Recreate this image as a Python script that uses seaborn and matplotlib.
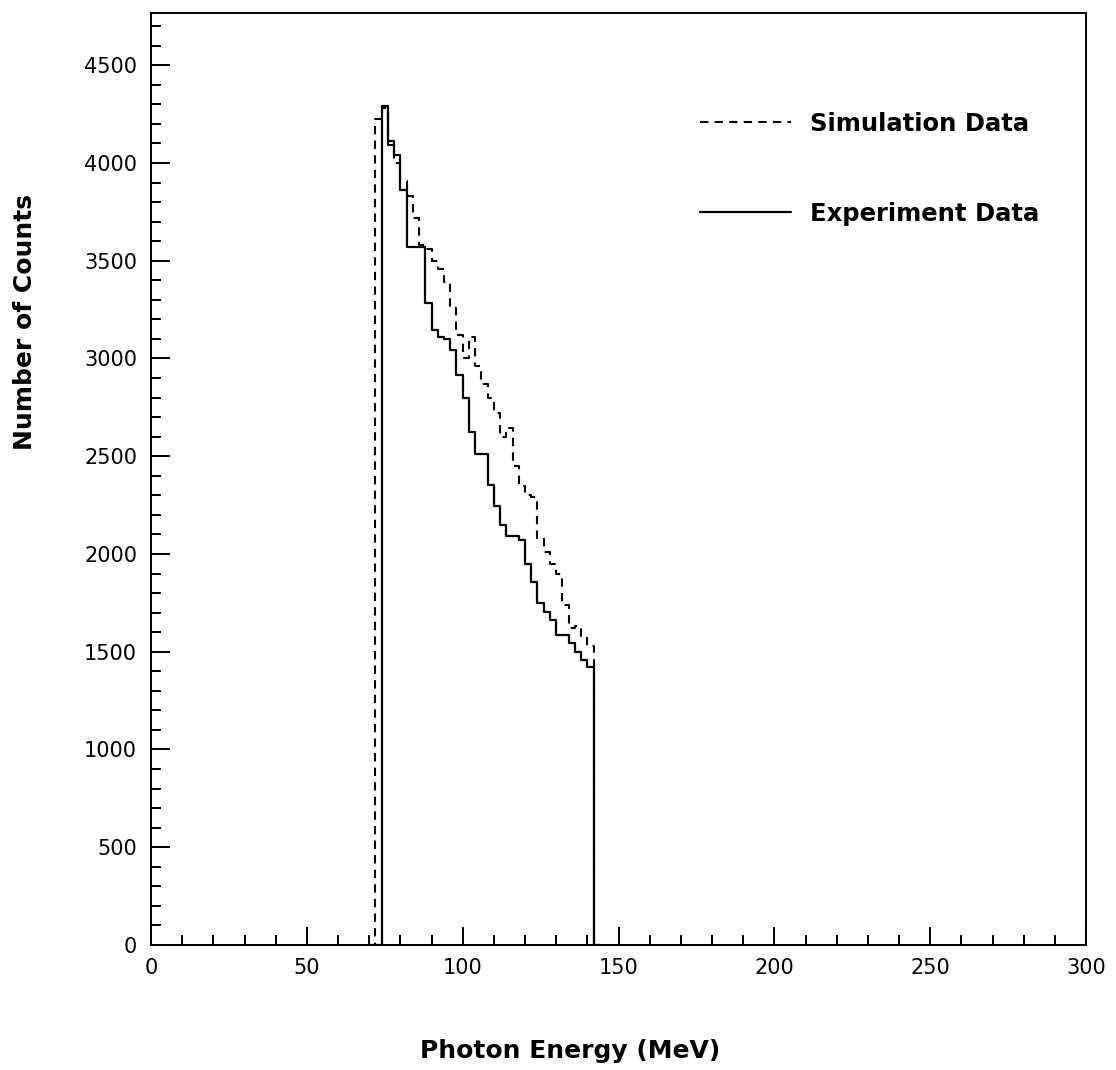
import numpy as np
import pandas as pd
import matplotlib
matplotlib.use("Agg")
import matplotlib.pyplot as plt
from matplotlib.ticker import MultipleLocator
from matplotlib.lines import Line2D
import seaborn as sns

# Bin edges of the photon energy histograms (MeV), 2 MeV bins
energy_edges = list(range(70, 145, 2))

# Counts per bin
experiment_counts = [0, 0, 4290, 4110, 4040, 3860, 3570, 3570, 3570, 3285,
                     3145, 3110, 3100, 3045, 2915, 2800, 2625, 2510, 2510, 2355,
                     2245, 2150, 2090, 2090, 2070, 1950, 1855, 1750, 1705, 1660,
                     1585, 1585, 1545, 1500, 1460, 1420, 0]
simulation_counts = [0, 4225, 4280, 4090, 4000, 3910, 3830, 3720, 3580, 3560,
                     3500, 3460, 3390, 3260, 3120, 3000, 3110, 2960, 2870, 2800,
                     2720, 2600, 2645, 2450, 2350, 2300, 2290, 2080, 2010, 1950,
                     1900, 1740, 1620, 1630, 1580, 1530, 0]

x_ticks = [0, 50, 100, 150, 200, 250, 300]
y_ticks = [0, 500, 1000, 1500, 2000, 2500, 3000, 3500, 4000, 4500]

sns.set_theme(style="white")
plt.rcParams["font.family"] = ["DejaVu Sans"]
plt.rcParams["text.color"] = "black"
plt.rcParams["axes.labelcolor"] = "black"

edges = np.array(energy_edges)
centers = (edges[:-1] + edges[1:]) / 2
df = pd.DataFrame({
    "energy": np.concatenate([centers, centers]),
    "counts": experiment_counts + simulation_counts,
    "source": ["Experiment Data"] * len(centers) + ["Simulation Data"] * len(centers),
})

fig = plt.figure(figsize=(11.16, 10.70), dpi=100)
ax = fig.add_axes([151 / 1116, 1 - 945 / 1070, 935 / 1116, 932 / 1070])

sim = df[df["source"] == "Simulation Data"]
exp = df[df["source"] == "Experiment Data"]
sns.histplot(data=sim, x="energy", weights="counts", bins=energy_edges,
             element="step", fill=False, color="black", linewidth=1.5,
             linestyle=(0, (4, 3)), ax=ax)
sns.histplot(data=exp, x="energy", weights="counts", bins=energy_edges,
             element="step", fill=False, color="black", linewidth=1.6, ax=ax)

ax.set_xlim(0, 300)
ax.set_ylim(0, 4767)
ax.set_xticks(x_ticks)
ax.set_yticks(y_ticks)
ax.xaxis.set_minor_locator(MultipleLocator(10))
ax.yaxis.set_minor_locator(MultipleLocator(100))
ax.tick_params(which="both", direction="in", top=False, right=False,
               bottom=True, left=True, colors="black", labelcolor="black",
               width=1.4, labelsize=15)
ax.tick_params(axis="x", which="major", length=13, pad=9)
ax.tick_params(axis="y", which="major", length=14, pad=10)
ax.tick_params(which="minor", length=7)
for side in ax.spines.values():
    side.set_color("black")
    side.set_linewidth(1.4)

ax.set_xlabel("Photon Energy (MeV)", fontsize=18, fontweight="bold", color="black")
ax.set_ylabel("Number of Counts", fontsize=18, fontweight="bold", color="black")
ax.xaxis.set_label_coords(0.448, -0.101)
ax.yaxis.set_label_coords(-0.122, 0.668)

handles = [Line2D([], [], color="black", lw=1.5, linestyle=(0, (4, 3))),
           Line2D([], [], color="black", lw=1.6)]
ax.legend(handles, ["Simulation Data", "Experiment Data"], frameon=False,
          loc="upper left", bbox_to_anchor=(0.564, 0.9175), handlelength=3.75,
          handletextpad=0.75, labelspacing=2.72, labelcolor="black",
          prop={"size": 17.5, "weight": "bold"})

fig.savefig("out.png", dpi=100, facecolor="white")
